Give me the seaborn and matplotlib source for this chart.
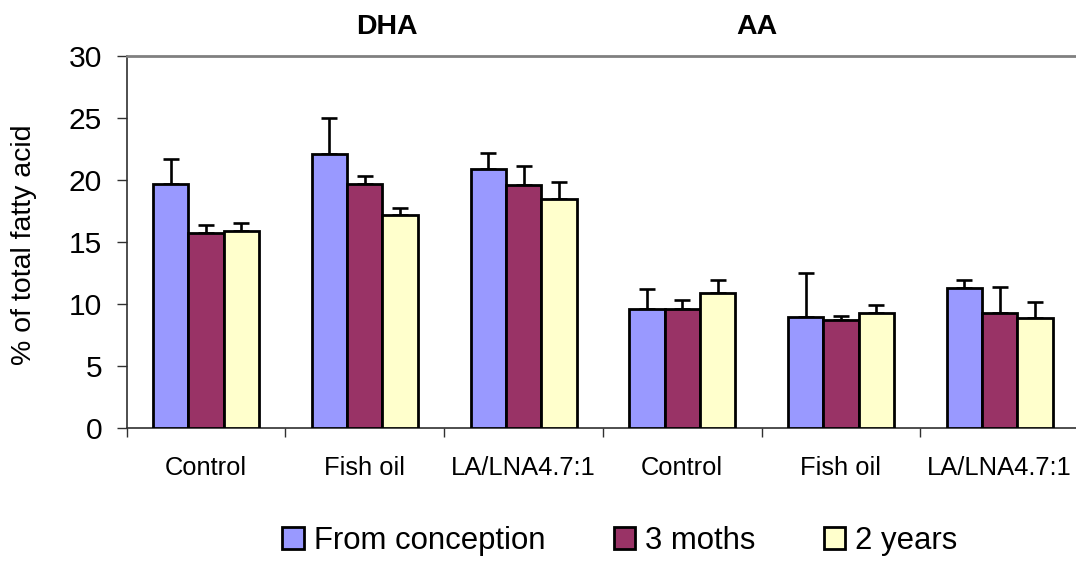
import numpy as np
import pandas as pd
import seaborn as sns
import matplotlib.pyplot as plt

# Fatty acid content (% of total fatty acid) by diet and supplementation period
fatty_acids = ["DHA", "DHA", "DHA", "AA", "AA", "AA"]
diets = ["Control", "Fish oil", "LA/LNA4.7:1", "Control", "Fish oil", "LA/LNA4.7:1"]
periods = ["From conception", "3 moths", "2 years"]

from_conception = [19.7, 22.1, 20.9, 9.6, 9.0, 11.3]
three_months = [15.7, 19.7, 19.6, 9.6, 8.7, 9.3]
two_years = [15.9, 17.2, 18.5, 10.9, 9.3, 8.9]

from_conception_err = [2.0, 2.85, 1.3, 1.6, 3.5, 0.65]
three_months_err = [0.65, 0.6, 1.5, 0.7, 0.35, 2.1]
two_years_err = [0.6, 0.55, 1.3, 1.05, 0.6, 1.3]

y_ticks = [0, 5, 10, 15, 20, 25, 30]
colors = ["#9999FF", "#993366", "#FFFFCC"]

groups = [f"{fa} {d}" for fa, d in zip(fatty_acids, diets)]
values = [from_conception, three_months, two_years]
errors = [from_conception_err, three_months_err, two_years_err]

rows = []
for period, vals, errs in zip(periods, values, errors):
    for g, v, e in zip(groups, vals, errs):
        rows.append({"group": g, "period": period, "value": v, "err": e})
df = pd.DataFrame(rows)

sns.set_style("ticks")
plt.rcParams["font.family"] = ["Liberation Sans", "DejaVu Sans"]
plt.rcParams["text.color"] = "black"
plt.rcParams["xtick.color"] = "black"
plt.rcParams["ytick.color"] = "black"
plt.rcParams["axes.labelcolor"] = "black"

fig = plt.figure(figsize=(10.76, 5.61), dpi=100)
ax = fig.add_axes([0.1178, 0.2365, 0.885, 0.6642])

sns.barplot(
    data=df, x="group", y="value", hue="period",
    order=groups, hue_order=periods, palette=colors,
    width=0.668, saturation=1, errorbar=None,
    edgecolor="black", linewidth=2.0, ax=ax, zorder=3,
)

# Upward-only error bars on top of each bar
for container, period in zip(ax.containers, periods):
    sub = df[df["period"] == period].set_index("group").loc[groups]
    xs = [b.get_x() + b.get_width() / 2 for b in container]
    ys = [b.get_height() for b in container]
    errs = sub["err"].to_numpy()
    ax.errorbar(xs, ys, yerr=[np.zeros_like(errs), errs], fmt="none",
                ecolor="black", elinewidth=1.9, capsize=5.5, capthick=1.9,
                zorder=2)

if ax.get_legend() is not None:
    ax.get_legend().remove()

ax.set_ylim(0, 30)
ax.set_xlim(-0.5, 5.5)
ax.set_yticks(y_ticks)
ax.set_yticklabels([str(t) for t in y_ticks], fontsize=21.6)
ax.tick_params(axis="y", length=7.2, width=1, color="#303030", pad=10.5,
               labelcolor="black")

ax.set_xticks(range(len(groups)))
ax.set_xticklabels(diets, fontsize=18.4)
ax.set_xticks(np.arange(-0.5, len(groups) + 0.5, 1), minor=True)
ax.tick_params(axis="x", which="major", length=0, pad=20, labelcolor="black")
ax.tick_params(axis="x", which="minor", length=6.5, width=1, color="#303030")
ax.set_xlabel("")
ax.set_ylabel("")

for side in ["left", "bottom"]:
    ax.spines[side].set_color("#303030")
    ax.spines[side].set_linewidth(1.2)
ax.spines["right"].set_visible(False)
ax.spines["top"].set_visible(True)
ax.spines["top"].set_color("#808080")
ax.spines["top"].set_linewidth(2)

fig.text(24 / 1076, 1 - 245 / 561, "% of total fatty acid", rotation=90,
         ha="center", va="center", fontsize=20.5, color="black")

ax.text(1.137, 32.33, "DHA", ha="center", va="center", fontsize=20.5,
        fontweight="bold", clip_on=False, color="black")
ax.text(3.469, 32.33, "AA", ha="center", va="center", fontsize=20.5,
        fontweight="bold", clip_on=False, color="black")

handles = [c[0] for c in ax.containers]
fig.legend(handles, periods, loc="center", bbox_to_anchor=(620 / 1076, 1 - 541 / 561),
           ncol=3, frameon=False, fontsize=22.4, handlelength=0.68,
           handleheight=0.68, handletextpad=0.33, columnspacing=2.2,
           borderaxespad=0, borderpad=0, labelcolor="black")

fig.savefig("out.png", dpi=100)
